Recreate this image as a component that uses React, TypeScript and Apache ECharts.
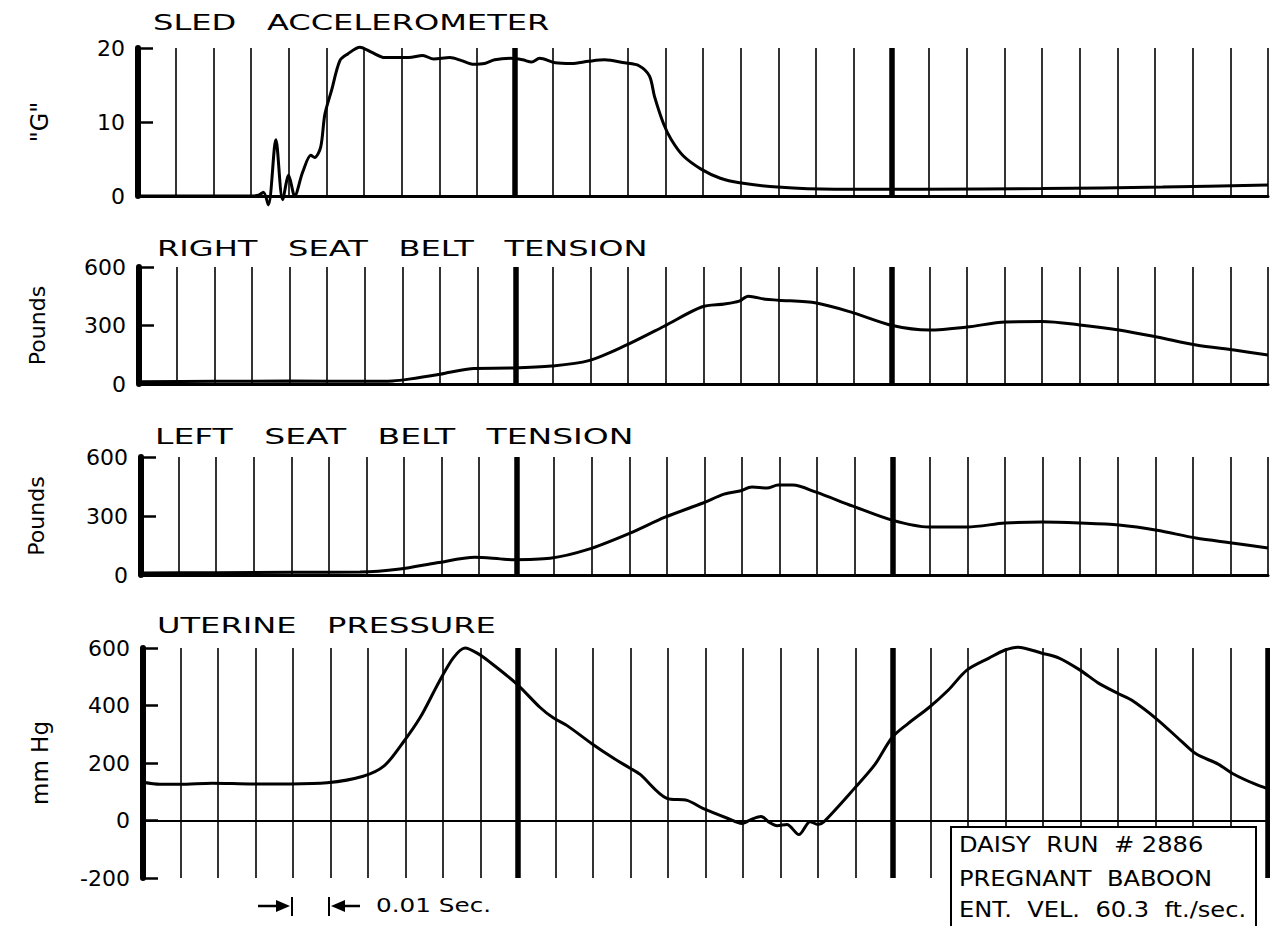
import React, { useEffect, useRef } from 'react';
import * as echarts from 'echarts';

// ---- data (time in ms, one grid division = 10 ms = 0.01 sec) ----
const accelT = [0, 10, 20, 30, 32, 33.3, 34.6, 36.6, 38.4, 40, 41.6, 43.7, 45.9, 46.9, 48.5, 49.6, 51.4, 53.6, 55.7, 58.9, 62.1, 65.5, 68.7, 71.9, 75.6, 78.5, 82.8, 85.9, 89.1, 92, 94.7, 98.9, 102.1, 104.5, 106.6, 110.8, 115.1, 119.6, 123.9, 129.2, 133, 135.8, 137.1, 139.5, 141.6, 144.8, 149.6, 154.6, 159.7, 169.8, 185, 208, 240, 272, 300];
const accelG = [0, 0, 0, 0, 0.1, 0.5, -1.2, 7.6, -0.5, 2.8, 0, 3.2, 5.5, 5.2, 6.6, 11, 14.3, 18.3, 19.2, 20.1, 19.4, 18.7, 18.7, 18.7, 19.0, 18.5, 18.7, 18.3, 17.8, 17.9, 18.4, 18.6, 18.4, 18.1, 18.6, 18.0, 17.9, 18.2, 18.4, 18.0, 17.6, 16.2, 13.5, 9.8, 7.6, 5.4, 3.6, 2.4, 1.8, 1.2, 0.9, 0.9, 1.0, 1.2, 1.5];

const rightT = [0, 20, 40, 60, 67.4, 71.7, 80, 82.6, 89, 99.3, 109.6, 119.5, 129, 139.4, 149.5, 155.6, 159.5, 161.9, 166.4, 169.9, 180, 189.8, 200.2, 210, 220, 230.2, 240, 250, 260.4, 270.5, 280.9, 291, 300];
const rightLb = [12, 14, 15, 14, 16, 25, 50, 60, 80, 82, 92, 120, 195, 295, 395, 410, 425, 450, 435, 430, 415, 365, 300, 277, 292, 318, 320, 303, 277, 241, 200, 174, 149];

const leftT = [0, 20, 40, 58.3, 68.9, 78.8, 88.9, 95.6, 98.7, 108.9, 119, 130.2, 139.5, 149.6, 155.2, 159.4, 162.6, 166.6, 169.6, 173.5, 179.7, 189.5, 199.9, 209.7, 219.9, 230, 239.8, 249.9, 260.3, 270.4, 280.8, 290.9, 300];
const leftLb = [10, 12, 14, 15, 30, 62, 90, 82, 78, 85, 130, 213, 294, 366, 411, 427, 447, 442, 457, 457, 421, 350, 279, 244, 244, 264, 269, 264, 254, 228, 188, 162, 137];

const uterineT = [0, 4.5, 9.9, 18.4, 29.3, 39.2, 49.1, 58.7, 64.3, 69.1, 73.9, 78.9, 82.7, 85.9, 89.1, 92.5, 99.5, 105.9, 109.3, 113.1, 119.7, 125.3, 129.9, 132.5, 139.7, 145.1, 149.3, 156, 159.7, 162.4, 164.8, 167.2, 169.1, 171.7, 174.9, 177.9, 180, 181.6, 189.6, 195.2, 199.7, 204, 209.6, 214.7, 219.7, 225.6, 229.9, 233.3, 239.7, 244.3, 249.9, 254.9, 260.3, 263.7, 270.4, 276.8, 280.8, 286.7, 290.9, 296.3, 300];
const uterineMmHg = [133, 126, 126, 130, 127, 127, 131, 154, 190, 267, 358, 481, 565, 600, 582, 551, 477, 393, 358, 330, 267, 218, 182, 161, 77, 70, 42, 7, -10, 5, 14, -8, -18, -14, -49, -4, -14, -4, 110, 195, 288, 337, 393, 453, 523, 565, 593, 603, 582, 565, 523, 477, 440, 418, 352, 277, 232, 196, 161, 128, 110];

const panelTitles = ['SLED   ACCELEROMETER', 'RIGHT   SEAT   BELT   TENSION', 'LEFT   SEAT   BELT   TENSION', 'UTERINE   PRESSURE'];
const axisNames = ['"G"', 'Pounds', 'Pounds', 'mm Hg'];
const yMins = [0, 0, 0, -200];
const yMaxs = [20, 600, 600, 600];
const yIntervals = [10, 300, 300, 200];
const timeMin = 0;
const timeMax = 300;
const timeStep = 10;
const majorTimes = [[0, 100, 200], [0, 100, 200], [0, 100, 200], [0, 100, 200, 300]];
const boxLines = ['DAISY  RUN  # 2886', 'PREGNANT  BABOON', 'ENT.  VEL.  60.3  ft./sec.'];
const scaleLabel = '0.01 Sec.';

const seriesT = [accelT, rightT, leftT, uterineT];
const seriesV = [accelG, rightLb, leftLb, uterineMmHg];

// ---- layout (positions / styles) ----
const FONT = '"DejaVu Sans", sans-serif';
const grids = [
  { left: 138, top: 48, width: 1130, height: 148 },
  { left: 139, top: 267, width: 1129, height: 117 },
  { left: 141, top: 457, width: 1127, height: 118 },
  { left: 143, top: 648, width: 1125, height: 230 },
];
const nameGaps = [86, 91, 94, 92];
const nameSizes = [24, 22, 22, 23];
const titlePos = [[153, 22], [157, 248], [155, 437], [157, 625]];
const titleScale = [1.46, 1.46, 1.5, 1.46];

export default function App() {
  const ref = useRef<HTMLDivElement>(null);
  useEffect(() => {
    if (!ref.current) return;
    const chart = echarts.init(ref.current, null, { renderer: 'svg' });

    const xAxis = grids.map((_, i) => ({
      type: 'value',
      gridIndex: i,
      min: timeMin,
      max: timeMax,
      interval: timeStep,
      axisLabel: { show: false },
      axisTick: { show: false },
      axisLine: { show: true, onZero: true, lineStyle: { color: '#000', width: i === 3 ? 2 : 3 } },
      splitLine: { show: true, lineStyle: { color: '#000', width: 1.6 } },
    }));

    const yAxis = grids.map((_, i) => ({
      type: 'value',
      gridIndex: i,
      min: yMins[i],
      max: yMaxs[i],
      interval: yIntervals[i],
      axisLine: { show: true, lineStyle: { color: '#000', width: 6 } },
      axisTick: { show: true, inside: true, length: 15, lineStyle: { color: '#000', width: 2.5 } },
      axisLabel: { color: '#000', fontSize: 22, fontFamily: FONT, margin: 13 },
      splitLine: { show: false },
      name: axisNames[i],
      nameLocation: 'middle',
      nameRotate: 90,
      nameGap: nameGaps[i],
      nameTextStyle: { color: '#000', fontSize: nameSizes[i], fontFamily: FONT },
    }));

    const series = seriesT.map((ts, i) => ({
      type: 'line',
      xAxisIndex: i,
      yAxisIndex: i,
      data: ts.map((t, k) => [t, seriesV[i][k]]),
      showSymbol: false,
      symbol: 'none',
      smooth: 0.3,
      clip: false,
      lineStyle: { color: '#000', width: 3 },
      z: 3,
      markLine: {
        silent: true,
        symbol: 'none',
        label: { show: false },
        lineStyle: { color: '#000', width: 5.5, type: 'solid' },
        data: majorTimes[i].map((t) => ({ xAxis: t })),
        z: 2,
      },
    }));

    const titleEls = panelTitles.map((t, i) => ({
      type: 'text',
      x: titlePos[i][0],
      y: titlePos[i][1],
      scaleX: titleScale[i],
      silent: true,
      style: { text: t, fill: '#000', fontSize: 22, fontFamily: FONT, align: 'left', verticalAlign: 'middle' },
    }));

    const boxEls = [
      {
        type: 'rect',
        z: 100,
        shape: { x: 951, y: 827, width: 305, height: 130 },
        style: { fill: '#fff', stroke: '#000', lineWidth: 2 },
      },
      ...boxLines.map((t, i) => ({
        type: 'text',
        z: 101,
        x: 959,
        y: [845, 879, 910][i],
        scaleX: 1.15,
        style: { text: t, fill: '#000', fontSize: 21, fontFamily: FONT, align: 'left', verticalAlign: 'middle' },
      })),
    ];

    const arrowEls = [
      { type: 'line', shape: { x1: 258, y1: 906, x2: 280, y2: 906 }, style: { stroke: '#000', lineWidth: 2.5 } },
      { type: 'polygon', shape: { points: [[276, 900], [290, 906], [276, 912]] }, style: { fill: '#000' } },
      { type: 'line', shape: { x1: 292, y1: 897, x2: 292, y2: 916 }, style: { stroke: '#000', lineWidth: 2 } },
      { type: 'line', shape: { x1: 329, y1: 897, x2: 329, y2: 916 }, style: { stroke: '#000', lineWidth: 2 } },
      { type: 'polygon', shape: { points: [[345, 900], [331, 906], [345, 912]] }, style: { fill: '#000' } },
      { type: 'line', shape: { x1: 342, y1: 906, x2: 360, y2: 906 }, style: { stroke: '#000', lineWidth: 2.5 } },
      {
        type: 'text',
        x: 376,
        y: 906,
        scaleX: 1.3,
        style: { text: scaleLabel, fill: '#000', fontSize: 19, fontFamily: FONT, align: 'left', verticalAlign: 'middle' },
      },
    ];

    chart.setOption({
      animation: false,
      backgroundColor: '#fff',
      textStyle: { fontFamily: FONT },
      grid: grids,
      xAxis,
      yAxis,
      series,
      graphic: { elements: [...titleEls, ...boxEls, ...arrowEls] },
    });
    return () => chart.dispose();
  }, []);

  return <div ref={ref} style={{ position: 'fixed', left: 0, top: 0, width: 1270, height: 926, background: '#fff' }} />;
}
